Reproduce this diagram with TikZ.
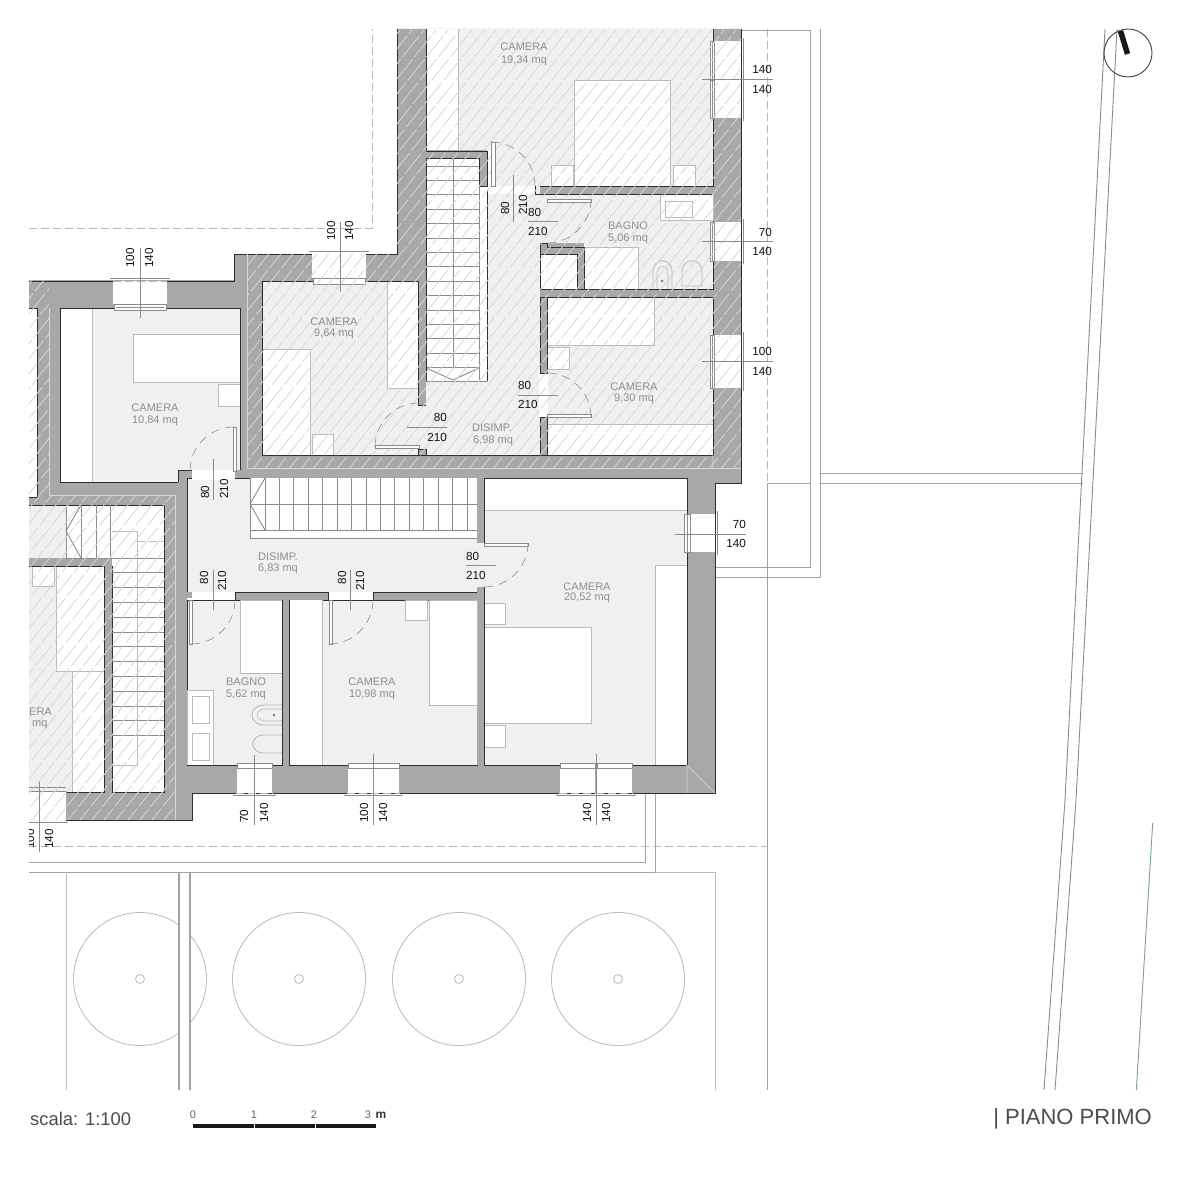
\documentclass[tikz,border=0pt]{standalone}
\usepackage{fontspec}
\setmainfont{Liberation Sans}
\definecolor{wallc}{HTML}{A9A7A8}
\definecolor{roomc}{HTML}{F1F0F1}
\definecolor{hatchc}{HTML}{D8D7D8}
\definecolor{furnc}{HTML}{BBBABB}
\definecolor{edgec}{HTML}{2E2E2E}
\definecolor{treadc}{HTML}{8C8B8C}
\definecolor{sitec}{HTML}{A3A2A3}
\definecolor{labc}{HTML}{8F8D8E}
\definecolor{dimc}{HTML}{111111}
\tikzset{
  x=1pt,y=-1pt,
  wall/.style={fill=wallc,draw=none},
  wallin/.style={fill=wallc,draw=edgec,line width=.5pt},
  room/.style={fill=roomc,draw=edgec,line width=.5pt},
  blank/.style={fill=white,draw=edgec,line width=.5pt},
  gapw/.style={fill=white,draw=none},
  furn/.style={fill=white,draw=furnc,line width=.9pt},
  outline/.style={draw=edgec,line width=.9pt},
  inedge/.style={draw=edgec,line width=.7pt},
  tread/.style={draw=treadc,line width=.9pt},
  site/.style={draw=sitec,line width=.9pt},
  sitedash/.style={draw=furnc,line width=.9pt,dash pattern=on 8pt off 4pt},
  hatchline/.style={draw=hatchc,line width=.8pt,dash pattern=on 27pt off 3pt},
  leaf/.style={fill=white,draw=treadc,line width=.6pt},
  swing/.style={draw=treadc,line width=.6pt,dash pattern=on 9pt off 6pt},
  dimline/.style={draw=treadc,line width=.6pt},
  frame/.style={fill=white,draw=treadc,line width=.6pt},
  reveal/.style={fill=white,draw=none},
  dimt/.style={font=\fontsize{11.7}{12}\selectfont,text=dimc,inner sep=0pt},
  roomt/.style={font=\fontsize{11}{12}\selectfont,text=labc,inner sep=0pt},
  tree/.style={draw=furnc,line width=.8pt},
}
\newcommand{\ewin}[3]{% x0,y1,y2
  \fill[reveal] (#1+2,#2) rectangle (#1+28,#3);
  \draw[frame] (#1-3,#2) rectangle (#1+1,#3);
  \draw[frame] (#1-1,#2) -- (#1-1,#3);
  \draw[frame] (#1+30,#2-3) -- (#1+30,#3+3);
}
\newcommand{\swin}[2]{% x1,x2 on south wall
  \fill[reveal] (#1+1,767) rectangle (#2-1,793);
  \draw[frame] (#1+1,763) rectangle (#2-1,768);
  \draw[draw=furnc,line width=.8pt,dash pattern=on 8pt off 4pt] (#1,793) -- (#2,793);
  \draw[frame] (#1-3,795) -- (#2+3,795);
}
\newcommand{\dswing}[4]{% start x,y, start angle, end angle
  \draw[swing] (#1,#2) arc[start angle=#3,end angle=#4,radius=44pt];
}
\begin{document}
\begin{tikzpicture}
\useasboundingbox (0,0) rectangle (1182,1182);
\fill[white] (0,0) rectangle (1182,1182);

% site lines
\draw[sitedash] (29,228) -- (372,228) -- (372,29);
\draw[sitedash] (767,29) -- (767,483);
\draw[site] (767,483) -- (767,1090);
\draw[site] (741,30) -- (810,30) -- (810,567) -- (715,567);
\draw[site] (820,29) -- (820,577) -- (715,577);
\draw[site] (767,483) -- (810,483);
\draw[site] (820,473) -- (1083,473);
\draw[site] (820,483) -- (1083,483);
\draw[sitedash] (29,846) -- (767,846);
\draw[site] (645,793) -- (645,862) -- (29,862);
\draw[site] (655,793) -- (655,872) -- (29,872);
\draw[draw=furnc,line width=.9pt] (655,872) -- (715,872) -- (715,1090);
\draw[draw=furnc,line width=.9pt] (66,872) -- (66,1090);
% trees
\foreach \cx in {140,299,459,618}{
  \draw[tree] (\cx,979) circle[radius=66.5pt];
  \draw[tree] (\cx,979) circle[radius=4.5pt];
}
\fill[white] (180,900) rectangle (189,1060);
\draw[draw=sitec,line width=2pt] (179,872) -- (179,1090);
\draw[draw=sitec,line width=1.4pt] (190,872) -- (190,1090);

% diagonal boundary lines and north mark
\draw[draw=treadc,line width=.9pt] (1105,29) -- (1065,800) -- (1044,1090);
\draw[draw=treadc,line width=.9pt] (1117,29) -- (1076,800) -- (1055,1090);
\draw[draw=black!75,line width=.9pt] (1128,53) circle[radius=24pt];
\draw[draw=black!90,line width=5.5pt] (1120.5,31) -- (1127.5,54);
\draw[draw={rgb,255:red,127;green,160;blue,145},line width=.9pt] (1152.7,823) -- (1136.3,1090);

% building mass
\fill[wall] (397,29) -- (741,29) -- (741,483) -- (715,483) -- (715,793) -- (192,793) -- (192,820) -- (29,820) -- (29,280) -- (234,280) -- (234,254) -- (397,254) -- cycle;
\draw[outline] (397,29) -- (397,254) -- (234,254) -- (234,281) -- (29,281);
\draw[outline] (741,29) -- (741,483) -- (715,483) -- (715,793) -- (192,793) -- (192,820) -- (66,820);

% ---- left strip
\fill[white] (29,308) rectangle (37,497);
\draw[inedge] (29,308) -- (37,308) -- (37,497) -- (29,497);

% ---- unhatched rooms
\draw[room] (60,308) rectangle (240,482);
\draw[furn] (60,308) rectangle (92,482);
\draw[furn] (133,334) rectangle (240,382);
\draw[furn] (218,384) rectangle (240,406);
\draw[room,fill=none] (60,308) rectangle (240,482);
\fill[wall] (178,470) rectangle (192,484);
\draw[edgec,line width=.7pt] (178,482) -- (178,470) -- (192,470) -- (192,478);
\fill[wall] (235,470) rectangle (241,478);

\draw[room] (187,478) rectangle (477,592);
\draw[room] (484,510) rectangle (687,765);
\draw[blank] (484,478) rectangle (687,510);
\draw[furn] (484,510) -- (687,510);
\fill[gapw] (192,470) rectangle (235,480);
\draw[room] (187,600) rectangle (282,765);
\draw[room] (289,600) rectangle (477,765);
\fill[gapw] (187,592) rectangle (235,600);
\fill[gapw] (328,592) rectangle (373,600);
\fill[roomc] (476,543) rectangle (485,587);
\fill[wall] (282,600) rectangle (289,765);
\draw[wallin] (235,592) rectangle (328,600);
\draw[wallin] (373,592) rectangle (477,600);
\fill[wall] (187,592) rectangle (192,598);
\fill[wall] (477,478) rectangle (484,543);
\fill[wall] (477,587) rectangle (484,765);
\draw[edgec,line width=.9pt] (484,478) -- (484,543);
\draw[edgec,line width=.9pt] (484,587) -- (484,765);

% furniture in unhatched rooms
\draw[furn] (240,600) rectangle (282,673);
\draw[furn] (187,690) rectangle (213,765);
\draw[furn] (192,696) rectangle (209,723);
\draw[furn] (192,733) rectangle (209,760);
\draw[furn,fill=none] (282,705) -- (264,705) .. controls (248,705) and (248,725) .. (264,725) -- (282,725);
\draw[furn,fill=none,line width=.6pt] (282,709) -- (266,709) .. controls (254,709) and (254,721) .. (266,721) -- (282,721);
\draw[furn,fill=none] (282,735) -- (264,735) .. controls (249,735) and (249,753) .. (264,753) -- (282,753);
\fill[furnc!70!black] (274,715) circle[radius=1.5pt];
\draw[furn] (322,600) -- (322,765);
\fill[white] (289,600) rectangle (321.5,765);
\draw[furn] (429,600) rectangle (477,705);
\draw[furn] (405,600) rectangle (427,620);
\draw[furn] (484,603) rectangle (505,624);
\draw[furn] (484,627) rectangle (591,723);
\draw[furn] (484,725) rectangle (505,747);
\draw[furn] (655,565) rectangle (687,765);
\fill[wall] (282,600) rectangle (289,765);
\draw[edgec,line width=.6pt] (282,600) -- (282,765) (289,600) -- (289,765);
\draw[edgec,line width=.6pt] (187,765) -- (282,765) (289,765) -- (477,765) (484,765) -- (687,765) -- (687,478);
\draw[edgec,line width=.9pt] (484,587) -- (484,765);

% corridor stairs
\draw[blank,draw=none] (250,478) rectangle (477,538);
\foreach \i in {0,...,14}{ \draw[tread] (265+14.43*\i,478) -- (265+14.43*\i,530); }
\draw[tread] (250,504) -- (477,504);
\draw[tread] (250,478) -- (250,538) -- (477,538);
\draw[tread] (250,530) -- (477,530);
\draw[tread] (265,478) -- (250,504) -- (265,530);

% ---- hatched upper rooms
\fill[roomc] (426,29) rectangle (713,186);
\fill[white] (426,29) rectangle (458,150);
\draw[furn,fill=none] (458,29) -- (458,150) -- (426,150);
\draw[furn] (574,80) rectangle (670,186);
\draw[furn] (551,165) rectangle (573,186);
\draw[furn] (673,165) rectangle (695,186);
\draw[inedge] (426,29) -- (426,150);
\draw[inedge] (713,29) -- (713,186) -- (535,186);
\draw[room,draw=none] (487,186) rectangle (540,455);
\fill[roomc] (426,381) rectangle (541,455);
\fill[gapw] (487,186) rectangle (535,194);
\fill[gapw] (487,150) rectangle (495,194);
\fill[roomc] (495,150) rectangle (535,186);
\draw[blank,draw=none] (426,158) rectangle (487,381);
\fill[wall] (426,150) rectangle (487,158);
\fill[wall] (479,158) rectangle (487,186);
\draw[edgec,line width=.9pt] (426,151) -- (487,151) -- (487,186) -- (479,186) -- (479,158) -- (426,158);
\draw[draw=edgec,line width=.9pt] (487,190) -- (487,381);
\foreach \i in {0,...,14}{ \draw[tread] (426,166+14.4*\i) -- (479,166+14.4*\i); }
\draw[tread] (453,158) -- (453,368);
\draw[tread] (479,186) -- (479,381);
\draw[tread] (426,381) -- (487,381);
\draw[tread] (426,368) -- (453,380) -- (479,368);

% bath upper
\draw[room] (547,194) rectangle (713,289);
\fill[roomc] (540,194) rectangle (548,243);
\draw[furn] (660,194) rectangle (713,220);
\draw[furn] (665,201) rectangle (692,217);
\draw[wallin,draw=none] (540,243) rectangle (584,254);
\fill[wall] (577,254) rectangle (584,289);
\draw[blank] (540,254) rectangle (577,289);
\draw[furn] (584,247) rectangle (638,289);
\draw[furn,fill=none] (653,289) -- (653,272) .. controls (653,257) and (672,257) .. (672,272) -- (672,289);
\draw[furn,fill=none,line width=.6pt] (657,289) -- (657,274) .. controls (657,264) and (668,264) .. (668,274) -- (668,289);
\draw[furn,fill=none] (682,286) -- (682,272) .. controls (682,257) and (702,257) .. (702,272) -- (702,286) -- cycle;
\fill[furnc!70!black] (662,281) circle[radius=1.5pt];
\draw[inedge] (535,186) -- (535,194) -- (713,194);
\draw[inedge] (547,243) -- (540,243) -- (540,289) -- (713,289);
\draw[inedge] (547,243) -- (547,247) -- (584,247) -- (584,289);

% camera 9,30
\draw[room] (547,297) rectangle (713,455);
\draw[furn] (547,297) rectangle (654,345);
\draw[furn] (547,347) rectangle (569,369);
\draw[furn] (547,424) rectangle (713,455);
\draw[room,fill=none] (547,297) rectangle (713,455);
\fill[gapw] (539,373) rectangle (547.5,417);
\draw[wallin] (540,417) rectangle (547,455);
\draw[wallin] (540,297) rectangle (547,373);
\draw[inedge] (540,297) -- (713,297);

% camera 9,64
\draw[room] (262,281) rectangle (418,455);
\draw[furn] (387,281) rectangle (418,388);
\draw[furn] (262,349) rectangle (310,455);
\draw[furn] (312,434) rectangle (333,455);
\draw[room,fill=none] (262,281) rectangle (418,455);
\fill[roomc] (417.5,405) rectangle (426.5,449);
\draw[inedge] (418,281) -- (418,405) -- (426,405);
\draw[inedge] (418,455) -- (540,455);
\draw[inedge] (418,449) -- (426,449) -- (426,455);
\fill[wall] (418,254) rectangle (426,405);
\draw[inedge] (418,281) -- (418,405) (426,158) -- (426,381);

% ---- hatched lower left
\fill[roomc] (29,505) rectangle (66,558);
\draw[blank,draw=none] (66,505) rectangle (112,558);
\draw[blank,draw=none] (112,505) rectangle (164,792);
\fill[roomc] (29,566) rectangle (104,792);
\draw[inedge] (29,505) -- (164,505) -- (164,792) -- (112,792) -- (112,566);
\draw[furn] (56,566) rectangle (104,671);
\draw[furn] (32,566) rectangle (54,586);
\draw[furn] (72,671) rectangle (104,792);
\draw[inedge] (29,566) -- (104,566) -- (104,792) -- (66,792);
\foreach \x in {66,81,96,110}{ \draw[tread] (\x,505) -- (\x,558); }
\draw[tread] (81,505) -- (66,531) -- (81,558);
\draw[tread] (66,558) -- (164,558);
\foreach \i in {0,...,12}{ \draw[tread] (112,558+14.8*\i) -- (164,558+14.8*\i); }
\draw[furn,fill=none,line width=.8pt] (112,531) -- (137,531) -- (137,765) -- (112,765);
\draw[furn,fill=none,line width=.7pt,dash pattern=on 8pt off 4pt] (137,541) -- (164,541);

% ---- windows
\ewin{713}{41}{79}
\ewin{713}{80}{118}
\ewin{713}{222}{261}
\ewin{713}{335}{388}
\fill[reveal] (691,514) rectangle (715,552);
\draw[frame] (684,514) rectangle (690,552);
\draw[frame] (687,514) -- (687,552);
\draw[frame] (717,511) -- (717,555);
\swin{236}{273}
\swin{347}{400}
\swin{559}{596}
\swin{596}{633}
% north windows
\fill[reveal] (113,281) rectangle (167,304);
\draw[frame] (110,278) -- (170,278);
\draw[frame] (114,304) rectangle (166,310);
\draw[frame] (116,307) -- (164,307);
\draw[draw=furnc,line width=.8pt,dash pattern=on 8pt off 4pt] (113,281) -- (167,281);
\fill[reveal] (312,254) rectangle (366,278);
\draw[frame] (309,251) -- (369,251);
\draw[frame] (313,278) rectangle (365,284);
% south-west window
\fill[reveal] (29,792) rectangle (66,820);
\draw[frame] (29,787) -- (66,787) (29,791) -- (66,791);
\draw[frame] (29,822) -- (68,822);

% ---- hatching
\begin{scope}
\clip (397,29) -- (741,29) -- (741,468) -- (247,468) -- (247,254) -- (397,254) -- cycle
      (29,280) -- (49,280) -- (49,495) -- (175,495) -- (175,820) -- (29,820) -- cycle;
\foreach \c in {-660,-648,...,750}{ \draw[hatchline] (\c,830) -- (\c+640,30); }
\end{scope}
\draw[draw=hatchc,line width=.7pt] (247,254) -- (247,468) -- (741,468);
\draw[draw=hatchc,line width=.7pt] (49,308) -- (49,495) -- (175,495) -- (175,820);
\draw[draw=hatchc,line width=.7pt] (713,455) -- (713,468) (687,765) -- (687,793) (687,765) -- (715,793);

% ---- doors
\draw[leaf] (491,142) rectangle (495,186);
\dswing{491}{142}{90}{0}
\draw[leaf] (547,199) rectangle (591,202);
\dswing{591}{199}{0}{-90}
\draw[leaf] (547,414) rectangle (591,417);
\dswing{547}{373}{90}{0}
\draw[leaf] (375,445) rectangle (419,448);
\dswing{419}{403}{90}{180}
\draw[leaf] (233,427) rectangle (236,471);
\dswing{234}{427}{90}{180}
\draw[leaf] (484,543) rectangle (528,546);
\dswing{528}{543}{0}{-90}
\draw[leaf] (189,600) rectangle (192,644);
\dswing{191}{644}{-90}{0}
\draw[leaf] (329,600) rectangle (332,644);
\dswing{329}{644}{-90}{0}

% ---- dimension lines
\foreach \y in {79,241,361}{ \draw[dimline] (702,\y) -- (773,\y); }
\draw[dimline] (675,534) -- (746,534);
\draw[dimline] (140,248) -- (140,318);
\draw[dimline] (340,222) -- (340,292);
\draw[dimline] (254,755) -- (254,825);
\draw[dimline] (373,754) -- (373,825);
\draw[dimline] (596,754) -- (596,825);
\draw[dimline] (39,782) -- (39,852);
\draw[dimline] (513,175) -- (513,222);
\draw[dimline] (528,221) -- (558,221);
\draw[dimline] (518,395) -- (558,395);
\draw[dimline] (407,427) -- (447,427);
\draw[dimline] (466,565) -- (496,565);
\draw[dimline] (213,459) -- (213,500);
\draw[dimline] (213,570) -- (213,610);
\draw[dimline] (350,570) -- (350,610);

% ---- dimension texts
\node[dimt,anchor=east] (e1a) at (772,69) {140};
\node[dimt,anchor=east] (e1b) at (772,89) {140};
\node[dimt,anchor=east] (e2a) at (772,232) {70};
\node[dimt,anchor=east] (e2b) at (772,251) {140};
\node[dimt,anchor=east] (e3a) at (772,351) {100};
\node[dimt,anchor=east] (e3b) at (772,371) {140};
\node[dimt,anchor=east] (e4a) at (746,524) {70};
\node[dimt,anchor=east] (e4b) at (746,543) {140};
\node[dimt,anchor=west] (d2a) at (528,212) {80};
\node[dimt,anchor=west] (d2b) at (528,231) {210};
\node[dimt,anchor=west] (d3a) at (518,385) {80};
\node[dimt,anchor=west] (d3b) at (518,404) {210};
\node[dimt,anchor=east] (d4a) at (447,417) {80};
\node[dimt,anchor=east] (d4b) at (447,437) {210};
\node[dimt,anchor=west] (d5a) at (466,556) {80};
\node[dimt,anchor=west] (d5b) at (466,575) {210};
\node[dimt,rotate=90,anchor=west] (d1a) at (505,215) {80};
\node[dimt,rotate=90,anchor=west] (d1b) at (523,215) {210};
\node[dimt,rotate=90,anchor=west] (d6a) at (205,499) {80};
\node[dimt,rotate=90,anchor=west] (d6b) at (224,499) {210};
\node[dimt,rotate=90,anchor=east] (d7a) at (204,571) {80};
\node[dimt,rotate=90,anchor=east] (d7b) at (222,571) {210};
\node[dimt,rotate=90,anchor=east] (d8a) at (342,571) {80};
\node[dimt,rotate=90,anchor=east] (d8b) at (360,571) {210};
\node[dimt,rotate=90,anchor=west] (t1a) at (130,268) {100};
\node[dimt,rotate=90,anchor=west] (t1b) at (149,268) {140};
\node[dimt,rotate=90,anchor=west] (t2a) at (331,241) {100};
\node[dimt,rotate=90,anchor=west] (t2b) at (349,241) {140};
\node[dimt,rotate=90,anchor=west] (b1a) at (244,823) {70};
\node[dimt,rotate=90,anchor=west] (b1b) at (264,823) {140};
\node[dimt,rotate=90,anchor=west] (b2a) at (364,823) {100};
\node[dimt,rotate=90,anchor=west] (b2b) at (383,823) {140};
\node[dimt,rotate=90,anchor=west] (b3a) at (587,823) {140};
\node[dimt,rotate=90,anchor=west] (b3b) at (606,823) {140};
\begin{scope}
\clip (29,820) rectangle (80,860);
\node[dimt,rotate=90,anchor=west] (b4a) at (30,849) {100};
\end{scope}
\node[dimt,rotate=90,anchor=west] (b4b) at (49,849) {140};

% ---- room labels
\node[roomt] (r1a) at (524,47) {CAMERA};
\node[roomt] (r1b) at (524,61) {19,34 mq};
\node[roomt] (r2a) at (628,226) {BAGNO};
\node[roomt] (r2b) at (628,239) {5,06 mq};
\node[roomt] (r3a) at (334,322) {CAMERA};
\node[roomt] (r3b) at (334,334) {9,64 mq};
\node[roomt] (r4a) at (155,408) {CAMERA};
\node[roomt] (r4b) at (155,421) {10,84 mq};
\node[roomt] (r5a) at (492,428) {DISIMP.};
\node[roomt] (r5b) at (493,441) {6,98 mq};
\node[roomt] (r6a) at (634,387) {CAMERA};
\node[roomt] (r6b) at (634,399) {9,30 mq};
\node[roomt] (r7a) at (278,557) {DISIMP.};
\node[roomt] (r7b) at (278,569) {6,83 mq};
\node[roomt] (r8a) at (246,682) {BAGNO};
\node[roomt] (r8b) at (246,695) {5,62 mq};
\node[roomt] (r9a) at (372,682) {CAMERA};
\node[roomt] (r9b) at (372,695) {10,98 mq};
\node[roomt] (r10a) at (587,587) {CAMERA};
\node[roomt] (r10b) at (587,598) {20,52 mq};
\node[roomt,anchor=west] (r11a) at (29,712) {ERA};
\node[roomt,anchor=west] (r11b) at (32,725) {mq};

% ---- title block
\node[inner sep=0pt,anchor=west,text=black!70,font=\fontsize{18.4}{20}\selectfont] (scala) at (30,1119) {scala: 1:100};
\node[inner sep=0pt,anchor=east,text=black!70,font=\fontsize{22}{24}\selectfont] (title) at (1152,1119) {| PIANO PRIMO};
\fill[black!90] (193,1124) rectangle (376,1128);
\draw[white,line width=.8pt] (254,1123.5) -- (254,1128.5) (315,1123.5) -- (315,1128.5);
\node[inner sep=0pt,text=black!60,font=\fontsize{11}{12}\selectfont] (s0) at (193,1115) {0};
\node[inner sep=0pt,text=black!60,font=\fontsize{11}{12}\selectfont] (s1) at (254,1115) {1};
\node[inner sep=0pt,text=black!60,font=\fontsize{11}{12}\selectfont] (s2) at (314,1115) {2};
\node[inner sep=0pt,text=black!60,font=\fontsize{11}{12}\selectfont] (s3) at (368,1115) {3};
\node[inner sep=0pt,text=black!80,font=\fontsize{12}{12}\selectfont\bfseries] (sm) at (381,1115) {m};
\end{tikzpicture}
\end{document}
